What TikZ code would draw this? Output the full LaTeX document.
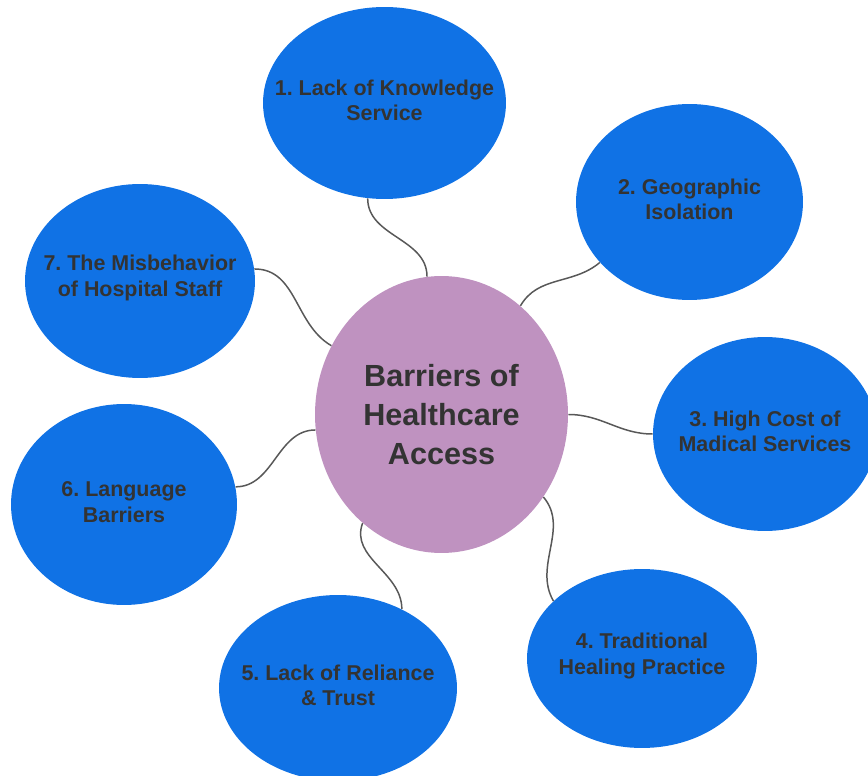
\documentclass[tikz,border=0pt]{standalone}
\usepackage{fontspec}
\setmainfont{Liberation Sans}
\usepackage{xcolor}
\usepackage{tikz}
\usetikzlibrary{shapes}

\definecolor{barrierblue}{RGB}{16,114,229}
\definecolor{hubpurple}{RGB}{191,146,192}
\definecolor{labelgray}{RGB}{51,51,51}
\definecolor{linkgray}{RGB}{88,88,88}

\frenchspacing

\begin{document}
\begin{tikzpicture}[x=0.02cm, y=0.02cm]

                \tikzstyle{barrier} = [ellipse, fill=barrierblue, inner sep=0pt]
                \tikzstyle{bartext} = [align=center, text=labelgray, inner sep=0pt, yshift=1.5pt, font=\fontsize{12.2}{14.7}\selectfont\bfseries]
                \tikzstyle{hub}     = [ellipse, fill=hubpurple, inner sep=0pt]
                \tikzstyle{hubtext} = [align=center, text=labelgray, inner sep=0pt, font=\fontsize{17.4}{22.4}\selectfont\bfseries]
                \tikzstyle{link}    = [draw=linkgray, line width=0.85pt]

                \useasboundingbox (0,0) rectangle (868,-776);
                \clip (0,0) rectangle (868,-776);

                \node [hub, minimum width=5.06cm, minimum height=5.54cm,
                       label={[hubtext]center:{Barriers of\\Healthcare\\Access}}](hub) at (441.5,-414.5) {};

                % the seven barriers around the hub
                \foreach \i/\x/\y/\w/\h/\txt in {
                        1/384.5/-103/4.86/3.84/{1. Lack of Knowledge\\Service},
                        2/689.5/-202/4.54/3.92/{2. Geographic\\Isolation},
                        3/765/-434/4.48/3.88/{3. High Cost of\\Madical Services},
                        4/642/-658.5/4.60/3.58/{4. Traditional\\Healing Practice},
                        5/338/-688/4.76/3.72/{5. Lack of Reliance\\\& Trust},
                        6/124/-504.5/4.52/4.02/{6. Language\\Barriers},
                        7/140/-281/4.60/3.88/{7. The Misbehavior\\of Hospital Staff}}
                {
                        \node [barrier, minimum width=\w cm, minimum height=\h cm,
                               label={[bartext]center:{\txt}}](b\i) at (\x,\y) {};
                }

                % wavy links into the hub
                \foreach \i/\a/\b/\o/\n in {
                        1/260/96/-90/90,
                        2/214/54/220/60,
                        3/180/0/180/0,
                        4/147/321/120/-50,
                        5/51/234/90/-110,
                        6/9/187/0/180,
                        7/6/148/0/150}
                {
                        \draw [link] (b\i.\a) to[out=\o, in=\n] (hub.\b);
                }
\end{tikzpicture}
\end{document}
